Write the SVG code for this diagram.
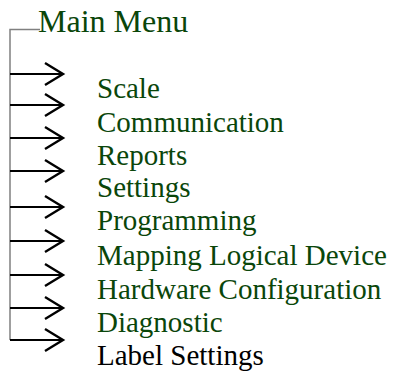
<svg xmlns="http://www.w3.org/2000/svg" width="393" height="376" viewBox="0 0 393 376">
<style>
text{font-family:"Liberation Serif","Times New Roman",serif;}
.t{font-size:29px;fill:#0a460a;}
.k{font-size:29px;fill:#000;}
.m{font-size:32px;fill:#0a460a;}
.g{stroke:#808080;stroke-width:1.5;fill:none;}
.a{stroke:#000;stroke-width:2;fill:none;}
</style>
<defs>
<marker id="ah" markerUnits="userSpaceOnUse" markerWidth="24" markerHeight="26" refX="19" refY="12" orient="auto" overflow="visible">
<path d="M1,1 L19,12 L1,23" stroke="#000" stroke-width="2.4" fill="none"/>
</marker>
</defs>
<g id="connectors">
<path class="g" d="M10,340 V29.5 H40"/>
<line class="a" x1="10" y1="74" x2="63" y2="74" marker-end="url(#ah)"/>
<line class="a" x1="10" y1="105" x2="63" y2="105" marker-end="url(#ah)"/>
<line class="a" x1="10" y1="138" x2="63" y2="138" marker-end="url(#ah)"/>
<line class="a" x1="10" y1="171" x2="63" y2="171" marker-end="url(#ah)"/>
<line class="a" x1="10" y1="207" x2="63" y2="207" marker-end="url(#ah)"/>
<line class="a" x1="10" y1="241" x2="63" y2="241" marker-end="url(#ah)"/>
<line class="a" x1="10" y1="275" x2="63" y2="275" marker-end="url(#ah)"/>
<line class="a" x1="10" y1="308" x2="63" y2="308" marker-end="url(#ah)"/>
<line class="a" x1="10" y1="340" x2="63" y2="340" marker-end="url(#ah)"/>
</g>
<g id="main-menu"><text class="m" x="38" y="32">Main Menu</text></g>
<g id="scale"><text class="t" x="97" y="98">Scale</text></g>
<g id="communication"><text class="t" x="97" y="132">Communication</text></g>
<g id="reports"><text class="t" x="97" y="165">Reports</text></g>
<g id="settings"><text class="t" x="97" y="197">Settings</text></g>
<g id="programming"><text class="t" x="97" y="230">Programming</text></g>
<g id="mapping"><text class="t" x="97" y="265">Mapping Logical Device</text></g>
<g id="hardware"><text class="t" x="97" y="299">Hardware Configuration</text></g>
<g id="diagnostic"><text class="t" x="97" y="332">Diagnostic</text></g>
<g id="label-settings"><text class="k" x="97" y="365">Label Settings</text></g>
</svg>
